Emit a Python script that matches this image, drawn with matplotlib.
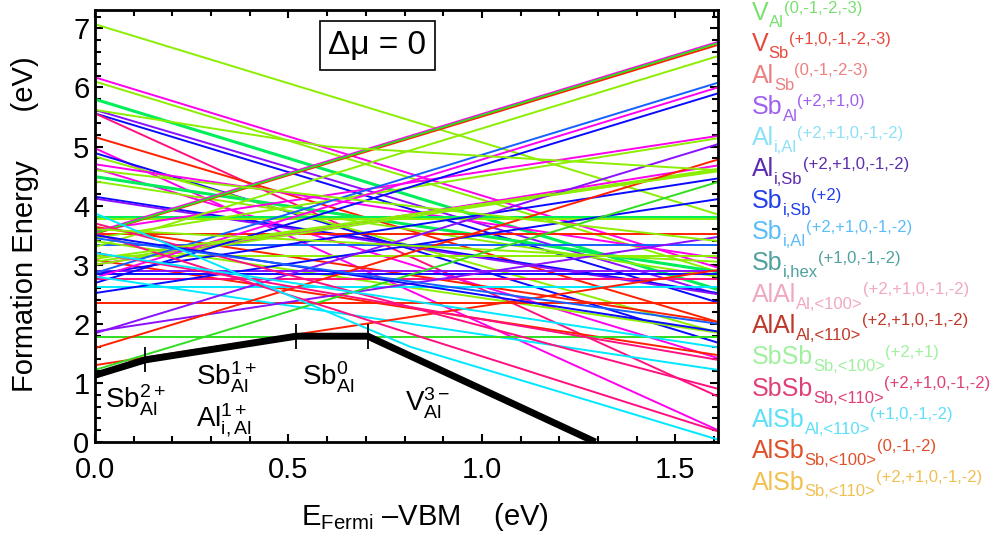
import matplotlib.pyplot as plt
from matplotlib.ticker import MultipleLocator

plt.rcParams['font.family'] = ['Liberation Sans', 'DejaVu Sans']
plt.rcParams['mathtext.fontset'] = 'custom'
plt.rcParams['mathtext.rm'] = 'Liberation Sans'
plt.rcParams['mathtext.it'] = 'Liberation Sans:italic'
plt.rcParams['mathtext.bf'] = 'Liberation Sans:bold'

EF_MAX = 1.61  # band gap (eV)

C = {'lime': '#8cee00', 'green': '#00ee5a', 'red': '#ff2000', 'mag': '#ff00ee',
     'pink': '#ff1080', 'blue': '#0a0aff', 'azure': '#1560ff', 'purple': '#8a10ff',
     'cyan': '#00e8ff', 'grn': '#30dd20'}

# charge-state lines: energy at E_F = 0 and at E_F = EF_MAX
line_left = [7.07, 6.17, 6.10, 5.80, 5.56, 5.62, 5.56, 5.16, 4.97, 4.89,
             4.83, 4.70, 4.63, 4.49, 4.41, 4.15, 4.12, 3.80, 3.78, 3.64,
             3.58, 3.52, 3.52, 3.55, 3.53, 3.45, 3.33, 3.30, 3.40, 3.08,
             3.00, 3.00, 3.05, 3.15, 2.89, 2.84, 2.84, 2.86, 2.78, 2.69,
             2.76, 2.63, 2.52, 2.36, 2.80, 1.87, 1.84, 1.78, 1.59, 1.30,
             1.22, 3.53, 3.70, 3.20, 3.10, 3.50, 3.60, 3.45, 3.20, 4.60]
line_right = [3.85, 2.95, 2.88, 2.58, 2.36, 2.50, 0.77, 2.03, 0.20, 1.68,
              1.85, 3.11, 1.42, 2.88, 2.80, 2.52, 2.50, 3.80, 3.78, 2.03,
              5.18, 3.52, 6.72, 6.77, 6.75, 5.14, 3.33, 6.53, 1.85, 1.47,
              4.68, 4.60, 4.62, 3.15, 2.89, 2.84, 4.46, 6.08, 6.00, 5.90,
              2.76, 2.63, 4.11, 2.36, 1.22, 3.47, 5.04, 1.78, 4.78, 2.91,
              4.40, 0.18, 0.90, 1.39, 4.58, 1.87, 3.05, 2.00, 1.60, 3.40]
line_colors = ['lime', 'mag', 'lime', 'green', 'blue', 'purple', 'pink', 'red', 'mag', 'blue',
               'lime', 'mag', 'mag', 'green', 'lime', 'blue', 'purple', 'green', 'lime', 'red',
               'mag', 'red', 'red', 'mag', 'grn', 'lime', 'azure', 'lime', 'lime', 'red',
               'mag', 'lime', 'lime', 'lime', 'purple', 'blue', 'blue', 'azure', 'mag', 'blue',
               'pink', 'cyan', 'blue', 'red', 'cyan', 'purple', 'purple', 'grn', 'red', 'red',
               'grn', 'pink', 'pink', 'pink', 'lime', 'blue', 'lime', 'azure', 'cyan', 'lime']

# piecewise lines (several charge states joined)
kink_x = [[0.0, 0.815, EF_MAX], [0.0, 0.60, EF_MAX]]
kink_y = [[3.87, 1.61, 0.04], [5.62, 5.00, 4.60]]
kink_colors = ['cyan', 'lime']

# lowest-energy envelope (Sb_Al 2+ / 1+ / 0, then V_Al 3-)
hull_x = [0.0, 0.13, 0.52, 0.705, 1.293]
hull_y = [1.13, 1.39, 1.79, 1.79, 0.0]
trans_x = [0.13, 0.52, 0.705]
trans_y = [1.39, 1.79, 1.79]

legend_base = ['V', 'V', 'Al', 'Sb', 'Al', 'Al', 'Sb', 'Sb', 'Sb',
               'AlAl', 'AlAl', 'SbSb', 'SbSb', 'AlSb', 'AlSb', 'AlSb']
legend_sub = ['Al', 'Sb', 'Sb', 'Al', 'i,Al', 'i,Sb', 'i,Sb', 'i,Al', 'i,hex',
              'Al,<100>', 'Al,<110>', 'Sb,<100>', 'Sb,<110>', 'Al,<110>', 'Sb,<100>', 'Sb,<110>']
legend_sup = ['(0,-1,-2,-3)', '(+1,0,-1,-2,-3)', '(0,-1,-2-3)', '(+2,+1,0)',
              '(+2,+1,0,-1,-2)', '(+2,+1,0,-1,-2)', '(+2)', '(+2,+1,0,-1,-2)',
              '(+1,0,-1,-2)', '(+2,+1,0,-1,-2)', '(+2,+1,0,-1,-2)', '(+2,+1)',
              '(+2,+1,0,-1,-2)', '(+1,0,-1,-2)', '(0,-1,-2)', '(+2,+1,0,-1,-2)']
legend_colors = ['#78e070', '#e8483c', '#ec8080', '#a060f0', '#8ce0f8', '#5c2cb0',
                 '#2040ec', '#5cbcf8', '#50a0a0', '#f0a8c0', '#c0382a', '#a0f0a0',
                 '#e0407a', '#5ce0f8', '#e05028', '#f0c050']

W, H = 996, 537
fig = plt.figure(figsize=(W / 100, H / 100), dpi=100)
ax = fig.add_axes([95 / W, 95 / H, 623 / W, 432 / H])

for y0, y1, c in zip(line_left, line_right, line_colors):
    lw = 2.2 if c == 'green' else 1.4
    ax.plot([0, EF_MAX], [y0, y1], color=C[c], lw=lw, solid_capstyle='butt')
for xs, ys, c in zip(kink_x, kink_y, kink_colors):
    ax.plot(xs, ys, color=C[c], lw=1.4)

ax.plot(hull_x, hull_y, color='black', lw=5, solid_capstyle='butt', zorder=5)
ax.vlines(trans_x, [v - 0.21 for v in trans_y], [v + 0.21 for v in trans_y],
          color='black', lw=1.3, zorder=6)

tfs = 20
ax.text(0.025, 1.0, r'Sb$^{2+}_{\rm Al}$', fontsize=tfs, va='top', ha='left')
ax.text(0.26, 1.40, r'Sb$^{1+}_{\rm Al}$', fontsize=tfs, va='top', ha='left')
ax.text(0.26, 0.68, r'Al$^{1+}_{\rm i,Al}$', fontsize=tfs, va='top', ha='left')
ax.text(0.535, 1.40, r'Sb$^{0}_{\rm Al}$', fontsize=tfs, va='top', ha='left')
ax.text(0.80, 0.95, r'V$^{3-}_{\rm Al}$', fontsize=tfs, va='top', ha='left')

ax.text(0.73, 6.71, 'Δμ = 0', fontsize=24, ha='center', va='center',
        bbox=dict(boxstyle='square,pad=0.26', fc='white', ec='black', lw=1.2), zorder=7)

ax.set_xlim(0, EF_MAX)
ax.set_ylim(0, 7.31)
ax.xaxis.set_major_locator(MultipleLocator(0.5))
ax.xaxis.set_minor_locator(MultipleLocator(0.1))
ax.yaxis.set_major_locator(MultipleLocator(1))
ax.yaxis.set_minor_locator(MultipleLocator(0.2))
ax.tick_params(which='both', direction='in', top=True, right=True, width=1.5)
ax.tick_params(which='major', length=6, labelsize=21)
ax.tick_params(axis='x', which='major', pad=10)
ax.tick_params(axis='y', which='major', pad=4)
ax.tick_params(which='minor', length=4.5)
for sp in ax.spines.values():
    sp.set_linewidth(2)

fig.text(425 / W, 1 - 517 / H, r'E$_{\rm Fermi}$ –VBM    (eV)', fontsize=21,
         ha='center', va='center')
fig.text(25 / W, 1 - 224 / H, 'Formation Energy      (eV)', fontsize=21,
         ha='center', va='center', rotation=90)

# legend: base text, then subscript, then superscript placed after it
renderer = fig.canvas.get_renderer()
for i in range(len(legend_base)):
    col = legend_colors[i]
    base_y = 1 - (20 + 31.3 * i) / H
    t = fig.text(752 / W, base_y, legend_base[i], fontsize=18, color=col,
                 ha='left', va='baseline')
    x1 = t.get_window_extent(renderer).x1
    s = fig.text(x1 / W, base_y - 7 / H, legend_sub[i], fontsize=12, color=col,
                 ha='left', va='baseline')
    x2 = s.get_window_extent(renderer).x1
    fig.text(x2 / W, base_y + 7.5 / H, legend_sup[i], fontsize=12, color=col,
             ha='left', va='baseline')

fig.savefig('out.png', dpi=100)
